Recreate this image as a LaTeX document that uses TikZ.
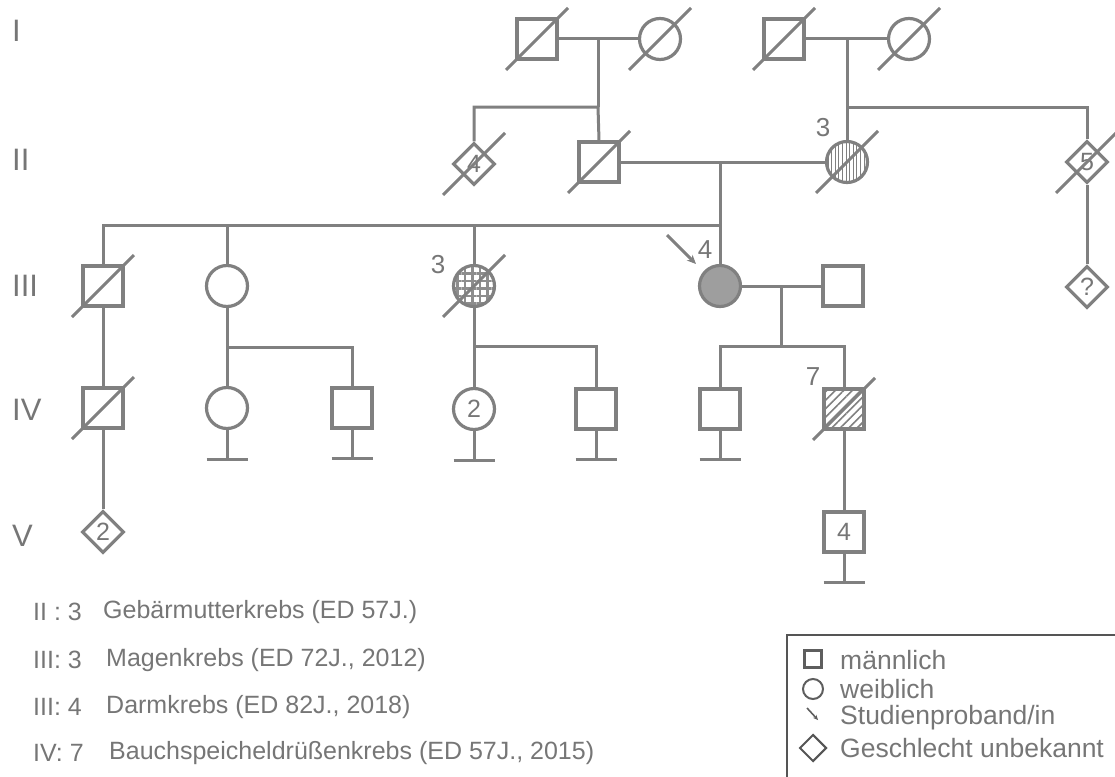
\documentclass[tikz,border=0pt]{standalone}
\usepackage{fontspec}
\setmainfont{Liberation Sans}
\usetikzlibrary{shapes.geometric,patterns.meta,arrows.meta}
\definecolor{lc}{RGB}{128,128,128}
\definecolor{tc}{RGB}{118,118,118}
\definecolor{bc}{RGB}{85,85,85}
\definecolor{pf}{RGB}{158,158,158}
\newcommand\fs[1]{\fontsize{#1}{#1}\selectfont}
% slash through a deceased person
\newcommand\dead[1]{\draw[line] ([shift={(-31,31)}]#1.center) -- ([shift={(31,-31)}]#1.center);}
% short bar below a person without children
\newcommand\nokids[1]{\draw[line] (#1.south) -- ++(0,29) coordinate (#1-b);
  \draw[line] ([xshift=-20.5]#1-b) -- ([xshift=20.5]#1-b);}
\begin{document}
\begin{tikzpicture}[x=1pt,y=-1pt,
  every node/.style={inner sep=0pt, text=tc},
  line/.style={draw=lc, line width=3pt},
  person/.style={draw=lc, line width=3.2pt, font=\fs{25}},
  male/.style={person, rectangle, minimum size=40pt},
  female/.style={person, circle, minimum size=41pt},
  unknown/.style={person, diamond, minimum size=42pt},
  gen/.style={anchor=west, font=\fs{31}},
  num/.style={font=\fs{26}},
  note/.style={anchor=west, font=\fs{25}},
  key/.style={anchor=west, font=\fs{26.5}}
]
\useasboundingbox (0,0) rectangle (1115,776);
\clip (0,0) rectangle (1115,776);

% generation labels
\node[gen] (gI)   at (12,31)  {I};
\node[gen] (gII)  at (12,160) {II};
\node[gen] (gIII) at (12,286) {III};
\node[gen] (gIV)  at (12,410) {IV};
\node[gen] (gV)   at (12,536) {V};

% generation I
\node[male]   (I1) at (537,39) {};
\node[female] (I2) at (660,39) {};
\node[male]   (I3) at (784,39) {};
\node[female] (I4) at (909,39) {};

% generation II
\node[unknown] (II4) at (474,164) {4};
\node[male]    (II1) at (599,162) {};
\node[female, pattern={Lines[angle=90,distance=3.6pt,line width=1pt]}, pattern color=lc] (II3) at (847,162) {};
\node[num] (lII3) at (823,128) {3};
\node[unknown] (II5) at (1087,162) {5};

% generation III
\node[male]   (III1) at (103,286) {};
\node[female] (III2) at (227,286) {};
\node[female, pattern={Hatch[angle=0,distance=7.5pt,line width=2.4pt]}, pattern color=lc!90] (III3) at (474,286) {};
\node[num] (lIII3) at (438,265) {3};
\node[female, fill=pf] (P) at (720,286) {};
\node[num] (lP) at (705,250) {4};
\coordinate (arr) at (667,235);
\node[male]   (III5) at (843,286) {};
\node[unknown] (IIIq) at (1087,287) {?};

% generation IV
\node[male]   (IV1) at (103,408) {};
\node[female] (IV2) at (227,408) {};
\node[male]   (IV3) at (352,408) {};
\node[female] (IV4) at (474,409) {2};
\node[male]   (IV5) at (596,409) {};
\node[male]   (IV6) at (720,409) {};
\node[male, pattern={Lines[angle=45,distance=6pt,line width=1.6pt]}, pattern color=lc] (IV7) at (844,409) {};
\node[num] (lIV7) at (813,377) {7};

% generation V
\node[unknown] (V1) at (103,532) {2};
\node[male]    (V2) at (844,532) {4};

% partnerships and descent
\coordinate (m1) at (598,39);  \coordinate (s1) at (598,107);
\coordinate (m2) at (847,39);  \coordinate (s2) at (847,107);
\coordinate (m3) at (720,162); \coordinate (s3) at (720,225);
\coordinate (m4) at (781,286); \coordinate (s4) at (781,346);
\coordinate (s5) at (227,347);
\coordinate (s6) at (474,346);

\draw[line] (I1) -- (I2);
\draw[line] (I3) -- (I4);
\draw[line] (m1) -- (s1);
\draw[line] (II4.north) |- (s1) -- (II1.north);
\draw[line] (m2) -- (II3.north);
\draw[line] (s2) -| (II5.north);
\draw[line] (II5.south) -- (IIIq.north);

\draw[line] (II1) -- (II3);
\draw[line] (m3) -- (P.north);
\draw[line] (III1.north) |- (s3);
\draw[line] (III2.north) -- (III2.north |- s3);
\draw[line] (III3.north) -- (III3.north |- s3);

\draw[line] (P) -- (III5);
\draw[line] (m4) -- (s4);
\draw[line] (IV6.north) |- (s4) -| (IV7.north);

\draw[line] (III1) -- (IV1);
\draw[line] (III2) -- (IV2);
\draw[line] (s5) -| (IV3.north);
\draw[line] (III3) -- (IV4);
\draw[line] (s6) -| (IV5.north);
\draw[line] (IV1) -- (V1);
\draw[line] (IV7) -- (V2);

\nokids{IV2} \nokids{IV3} \nokids{IV4} \nokids{IV5} \nokids{IV6} \nokids{V2}

% deceased
\dead{I1} \dead{I2} \dead{I3} \dead{I4}
\dead{II4} \dead{II1} \dead{II3} \dead{II5}
\dead{III1} \dead{III3} \dead{IV1} \dead{IV7}

% proband arrow
\draw[line, -{Stealth[length=9pt,width=8pt]}] (arr) -- ([shift={(-24,-22)}]P.center);

% diagnoses
\node[note] (d1a) at (33,612) {II : 3};   \node[note] (d1b) at (103,612) {Gebärmutterkrebs (ED 57J.)};
\node[note] (d2a) at (33,660) {III: 3};   \node[note] (d2b) at (106,660) {Magenkrebs (ED 72J., 2012)};
\node[note] (d3a) at (33,707) {III: 4};   \node[note] (d3b) at (106,707) {Darmkrebs (ED 82J., 2018)};
\node[note] (d4a) at (33,753) {IV: 7};    \node[note] (d4b) at (109,753) {Bauchspeicheldrüßenkrebs (ED 57J., 2015)};

% key
\draw[bc, line width=1.6pt] (787,635) rectangle (1130,800);
\node[draw=bc!80!lc, line width=2.4pt, minimum size=17pt] (kM) at (813,659) {};
\node[draw=bc!80!lc, line width=2pt, circle, minimum size=20pt] (kF) at (813,689) {};
\coordinate (kA1) at (807,708); \coordinate (kA2) at (818,720);
\draw[bc!80!lc, line width=1.6pt, -{Stealth[length=5pt,width=4.5pt]}] (kA1) -- (kA2);
\node[draw=bc, line width=2pt, diamond, minimum size=27pt] (kU) at (813,748) {};
\node[key] (tM) at (840,660) {männlich};
\node[key] (tF) at (840,689) {weiblich};
\node[key] (tA) at (840,718) {Studienproband/in};
\node[key] (tU) at (840,748) {Geschlecht unbekannt};
\end{tikzpicture}
\end{document}
